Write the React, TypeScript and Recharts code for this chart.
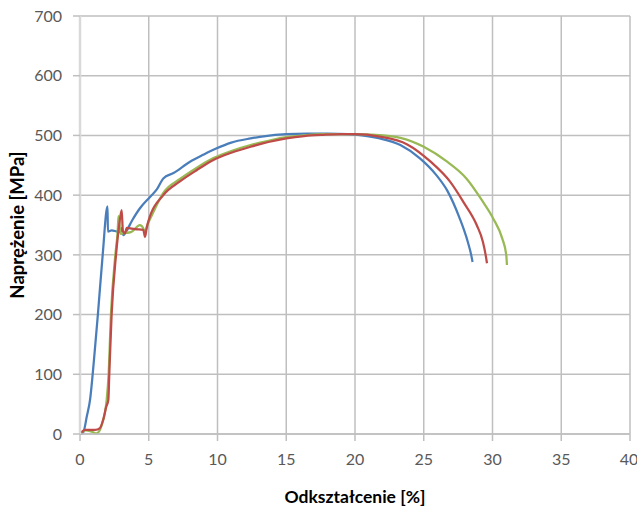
import { LineChart, Line, XAxis, YAxis, CartesianGrid } from "recharts";

// strain [%] / stress [MPa]
const blueStrain = [0, 0.24, 0.5, 0.73, 1.0, 1.3, 1.65, 2.0, 2.03, 2.3, 2.67, 2.9, 3.05, 3.15, 3.27, 3.8, 4.36, 5.09, 5.6, 6.06, 6.8, 8.0, 9.0, 9.9, 11.0, 12.4, 13.5, 15.0, 16.5, 18.0, 19.5, 20.5, 21.8, 23.3, 24.7, 25.9, 26.7, 27.6, 28.2, 28.45, 28.55];
const blueStress = [0, 3, 30, 57, 120, 200, 300, 381, 339, 341, 339, 338, 345, 333, 336, 358, 378, 397, 410, 428, 437, 456, 468, 478, 488, 495, 499, 502, 503, 503, 502, 500, 495, 484, 462, 434, 408, 362, 322, 300, 288];

const redStrain = [0, 0.36, 1.1, 1.45, 1.7, 1.9, 2.06, 2.13, 2.3, 2.62, 2.85, 3.03, 3.12, 3.27, 3.4, 4.0, 4.6, 4.73, 4.85, 4.97, 6.06, 7.27, 8.5, 9.7, 11.0, 12.4, 13.7, 15.0, 16.3, 17.7, 19.0, 20.0, 21.8, 23.8, 25.5, 26.9, 27.9, 28.85, 29.3, 29.5, 29.6];
const redStress = [0, 7, 7, 10, 25, 45, 57, 100, 200, 300, 350, 375, 340, 336, 345, 343, 342, 330, 345, 356, 400, 423, 442, 459, 471, 481, 489, 495, 499, 501, 502, 502, 498, 485, 456, 423, 388, 350, 322, 300, 286];

const greenStrain = [0, 0.4, 0.85, 1.2, 1.58, 1.94, 2.08, 2.25, 2.57, 2.74, 2.8, 2.95, 3.1, 3.7, 4.36, 4.5, 4.75, 4.9, 5.2, 6.06, 7.27, 8.5, 9.7, 11.0, 12.4, 13.7, 15.0, 16.3, 17.7, 19.0, 20.0, 21.5, 23.3, 25.0, 26.7, 28.1, 29.3, 30.05, 30.7, 31.0, 31.05];
const greenStress = [0, 6, 4, 1, 15, 57, 100, 200, 300, 340, 365, 335, 336, 338, 350, 348, 340, 350, 365, 404, 427, 446, 462, 474, 484, 491, 497, 500, 502, 502, 502, 501, 496, 481, 456, 428, 389, 361, 328, 300, 283];

const xTicks = [0, 5, 10, 15, 20, 25, 30, 35, 40];
const yTicks = [0, 100, 200, 300, 400, 500, 600, 700];

const zip = (xs: number[], ys: number[]) => xs.map((x, i) => ({ x, y: ys[i] }));

const tickStyle = { fill: "#595959", fontSize: 16, fontFamily: "Lato" };
const titleStyle = { fill: "#000", fontWeight: 700, fontFamily: "Lato" };

export default function App() {
  return (
    <div style={{ position: "absolute", left: 0, top: 0, width: 637, height: 507, background: "#fff" }}>
      <LineChart width={637} height={507} margin={{ top: 16, right: 7, bottom: 0, left: 0 }}>
        <CartesianGrid stroke="#BFBFBF" strokeWidth={1.5} />
        <XAxis
          type="number"
          dataKey="x"
          domain={[0, 40]}
          ticks={xTicks}
          height={73}
          tickSize={7}
          tickMargin={13}
          tick={tickStyle}
          axisLine={{ stroke: "#BFBFBF", strokeWidth: 1.5 }}
          tickLine={{ stroke: "#BFBFBF", strokeWidth: 1.5 }}
          label={{ value: "Odkształcenie [%]", position: "insideBottom", offset: 4, style: { ...titleStyle, fontSize: 17.5 } }}
        />
        <YAxis
          type="number"
          dataKey="y"
          domain={[0, 700]}
          ticks={yTicks}
          width={80}
          tickSize={7}
          tickMargin={11}
          tick={tickStyle}
          axisLine={{ stroke: "#D9D9D9", strokeWidth: 2.5 }}
          tickLine={{ stroke: "#BFBFBF", strokeWidth: 1.5 }}
          label={{ value: "Naprężenie [MPa]", angle: -90, position: "insideLeft", offset: 17, style: { ...titleStyle, fontSize: 18.5, textAnchor: "middle" } }}
        />
        <Line data={zip(blueStrain, blueStress)} dataKey="y" type="monotone" stroke="#4A7EBB" strokeWidth={2.25} dot={false} isAnimationActive={false} />
        <Line data={zip(greenStrain, greenStress)} dataKey="y" type="monotone" stroke="#98B954" strokeWidth={2.25} dot={false} isAnimationActive={false} />
        <Line data={zip(redStrain, redStress)} dataKey="y" type="monotone" stroke="#BE4B48" strokeWidth={2.25} dot={false} isAnimationActive={false} />
      </LineChart>
    </div>
  );
}
